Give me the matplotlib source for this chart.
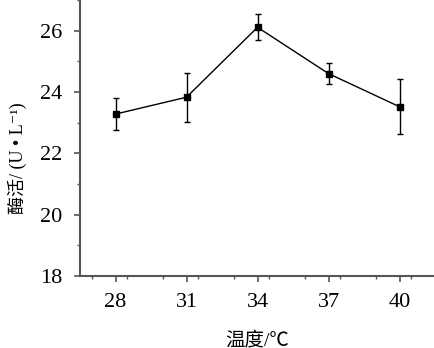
import matplotlib
matplotlib.use("Agg")
import matplotlib.pyplot as plt
from matplotlib.ticker import MultipleLocator

plt.rcParams['font.family'] = ['Liberation Serif', 'Noto Sans CJK SC', 'DejaVu Sans']

# temperature (°C) vs enzyme activity (U/L)
temps = [28, 31, 34, 37, 40]
activity = [23.28, 23.83, 26.11, 24.60, 23.52]
errors = [0.52, 0.80, 0.42, 0.34, 0.90]

fig = plt.figure(figsize=(4.35, 3.48), dpi=100)
ax = fig.add_axes([80 / 435, 72 / 348, 355 / 435, 276 / 348])

ax.errorbar(temps, activity, yerr=errors, color='black', lw=1.0,
            marker='s', markersize=5, capsize=2.5, elinewidth=1.0, capthick=1.0)

ax.set_xlim(26.5, 41.5)
ax.set_ylim(18, 27)
ax.set_xticks(temps)
ax.xaxis.set_minor_locator(MultipleLocator(1.5))
ax.yaxis.set_major_locator(MultipleLocator(2))
ax.yaxis.set_minor_locator(MultipleLocator(1))

for side in ['top', 'right']:
    ax.spines[side].set_visible(False)
for side in ['left', 'bottom']:
    ax.spines[side].set_color('#555555')
    ax.spines[side].set_linewidth(1.5)

ax.tick_params(which='major', direction='out', length=4, width=1.2, color='#555555',
               labelsize=16)
ax.tick_params(axis='x', which='major', pad=8)
ax.tick_params(axis='y', which='major', pad=9)
ax.tick_params(which='minor', direction='out', length=2.5, width=1.0, color='#555555')

ax.set_xlabel('温度/℃', fontsize=14)
ax.xaxis.set_label_coords(0.5, -0.2)
ax.set_ylabel('酶活/ (U • L⁻¹)', fontsize=13)
ax.yaxis.set_label_coords(-0.149, 0.428)

fig.savefig('out.png', dpi=100)
